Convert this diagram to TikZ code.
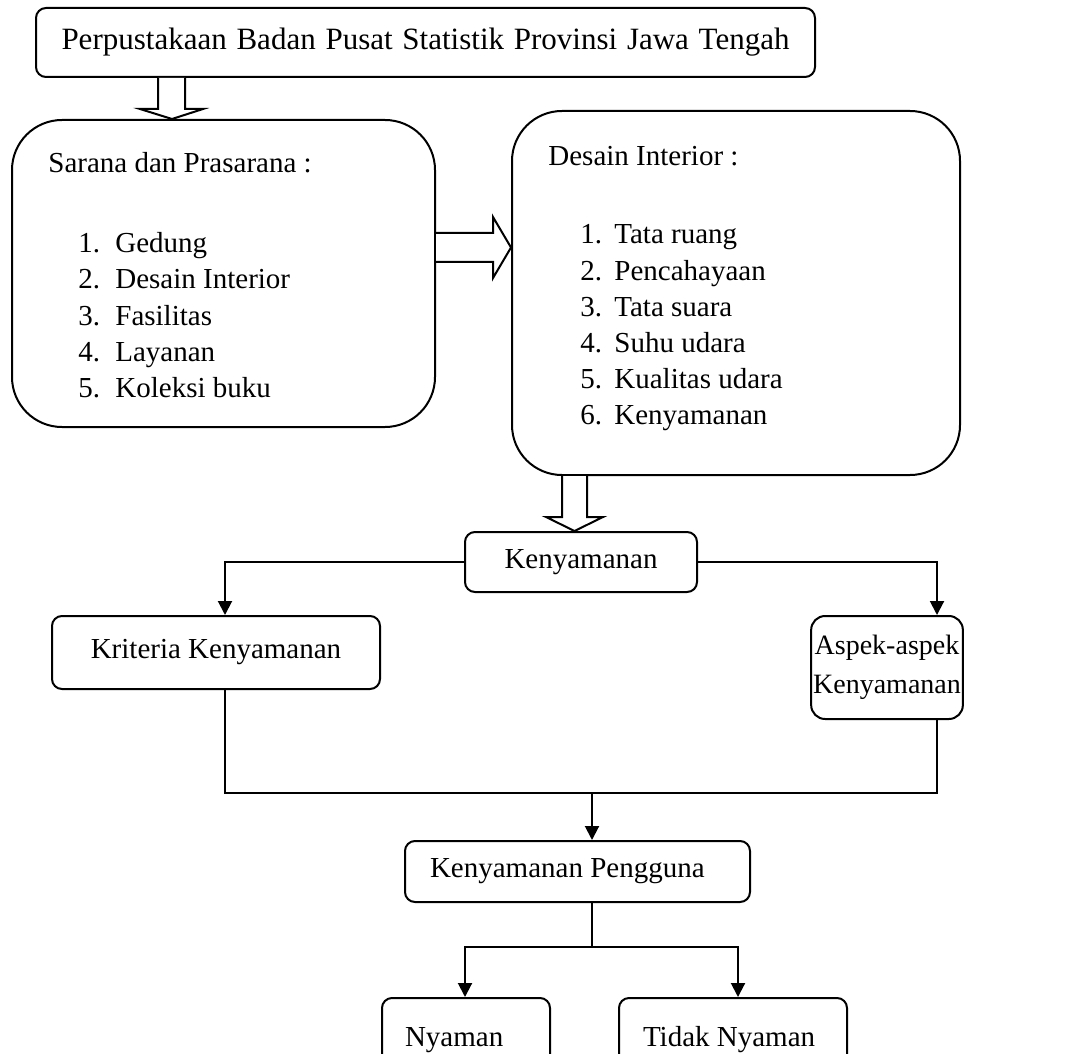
\documentclass[tikz,border=0pt]{standalone}
\usepackage{fontspec}
\setmainfont{Liberation Serif}
\usetikzlibrary{arrows.meta,calc}

\begin{document}
\begin{tikzpicture}[x=0.5pt, y=-0.5pt,
    box/.style={draw=black, line width=1pt, rounded corners=5pt, fill=white,
                align=center, inner sep=0pt, font=\fontsize{14.5}{18}\selectfont},
    bigbox/.style={box, rounded corners=25pt},
    entry/.style={anchor=base west, inner sep=0pt, font=\fontsize{14.5}{18}\selectfont},
    hollow/.style={draw=black, line width=1pt, fill=white, line join=miter},
    arrow/.style={-{Triangle[length=7pt,width=7pt]}, draw=black, line width=1pt},
    link/.style={draw=black, line width=1pt}
  ]
    \useasboundingbox (0,0) rectangle (1074,1053);
    \clip (0,0) rectangle (1074,1053);

    \node[box, font=\fontsize{15.5}{18}\selectfont, minimum width=389.5pt, minimum height=34.5pt] (library) at (425.5,42.5)
      {\makebox[364pt][s]{Perpustakaan Badan Pusat Statistik Provinsi Jawa Tengah}};
    \node[bigbox, minimum width=211.5pt, minimum height=153.5pt] (sarana) at (223.5,273.5) {};
    \node[bigbox, minimum width=224pt, minimum height=182pt] (desain) at (736,293) {};

    \node[entry] (saranatitle) at (48,173) {Sarana dan Prasarana :};
    \foreach \i/\t in {1/Gedung,2/Desain Interior,3/Fasilitas,4/Layanan,5/Koleksi buku}
      \node[entry] (sarana\i) at (78,217+36*\i) {\makebox[18.5pt][l]{\i.}\t};

    \node[entry] (desaintitle) at (548,166) {Desain Interior :};
    \foreach \i/\t in {1/Tata ruang,2/Pencahayaan,3/Tata suara,4/Suhu udara,5/Kualitas udara,6/Kenyamanan}
      \node[entry] (desain\i) at (580,208+36*\i) {\makebox[17pt][l]{\i.}\t};

    \node[box, minimum width=116pt, minimum height=30pt] (comfort) at (581,562) {Kenyamanan};
    \node[box, minimum width=164pt, minimum height=36.5pt] (criteria) at (216,652.5) {Kriteria Kenyamanan};
    \node[box, font=\fontsize{14}{18}\selectfont, rounded corners=7pt, inner xsep=1pt,
          minimum width=73pt, minimum height=51.5pt] (aspect) at (887,667.5)
      {Aspek-aspek\\[1.5pt]Kenyamanan};
    \node[box, minimum height=30.5pt] (user) at (577.5,871.5)
      {\makebox[172.5pt][l]{\hspace*{12.5pt}Kenyamanan Pengguna}};
    \node[box, minimum height=42pt] (yes) at (466,1040) {\makebox[84pt][l]{\hspace*{11.5pt}Nyaman}};
    \node[box, minimum height=42pt] (no) at (733,1040) {\makebox[114pt][l]{\hspace*{12pt}Tidak Nyaman}};

    % hollow block arrows
    \draw[hollow] (158,0 |- library.south) -- (158,109) -- (140,109) -- (172,0 |- sarana.north)
      -- (203,109) -- (185,109) -- (185,0 |- library.south);
    \draw[hollow] (sarana.east |- 0,233) -- (493,233) -- (493,217) -- (desain.west |- 0,247.5)
      -- (493,278) -- (493,262) -- (sarana.east |- 0,262);
    \draw[hollow] (562,0 |- desain.south) -- (562,517) -- (546,517) -- (574.5,0 |- comfort.north)
      -- (603,517) -- (587,517) -- (587,0 |- desain.south);

    % connectors
    \draw[arrow] (comfort.west) -| (criteria.north -| 225,0);
    \draw[arrow] (comfort.east) -| (aspect.north -| 937,0);
    \coordinate (merge) at (592,793);
    \draw[link] (criteria.south -| 225,0) |- (merge) -| (aspect.south -| 937,0);
    \draw[arrow] (merge) -- (user.north -| merge);
    \coordinate (split) at (592,947);
    \draw[link] (user.south -| split) -- (split);
    \draw[arrow] (split) -| (yes.north -| 465,0);
    \draw[arrow] (split) -| (no.north -| 738,0);
\end{tikzpicture}
\end{document}
